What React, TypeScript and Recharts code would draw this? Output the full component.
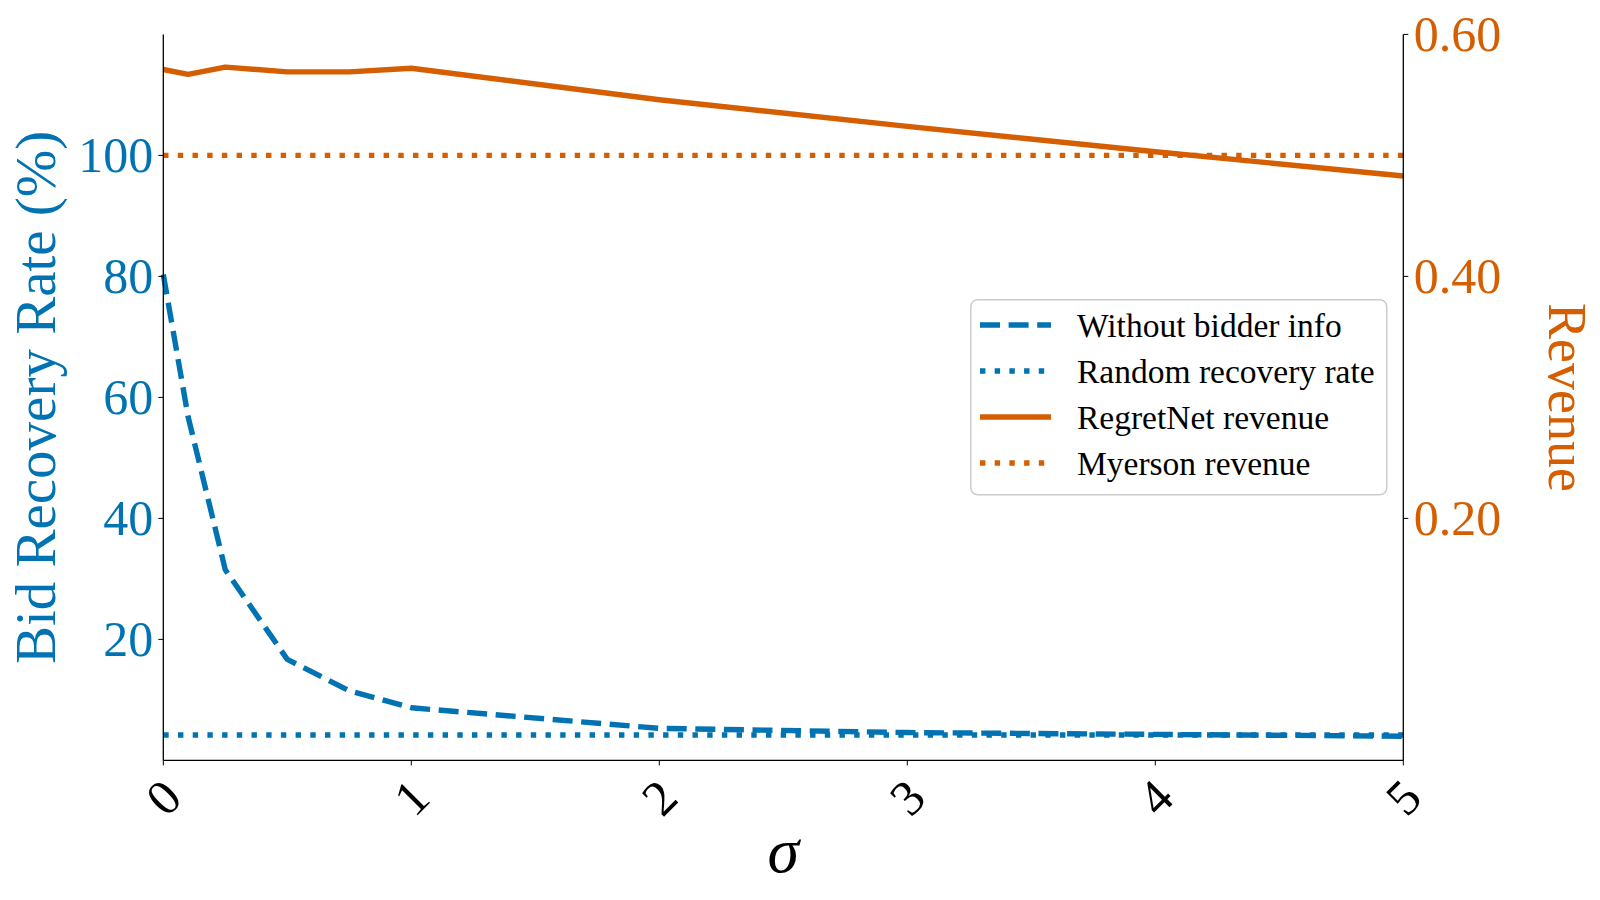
import React from 'react';
import {
  LineChart,
  Line,
  XAxis,
  YAxis,
  ReferenceLine,
} from 'recharts';

// sigma values sampled in the experiment
const SIGMA = [0, 0.1, 0.25, 0.5, 0.75, 1, 2, 3, 4, 5];
// bid recovery rate (%) without bidder info
const WITHOUT_INFO = [80.3, 56.8, 31.5, 16.7, 11.5, 8.7, 5.3, 4.6, 4.3, 4.0];
// RegretNet revenue
const REGRETNET = [0.571, 0.567, 0.573, 0.569, 0.569, 0.572, 0.546, 0.524, 0.503, 0.483];
const RANDOM_RATE = 4.2;
const MYERSON_REVENUE = 0.5;

const X_TICKS = [0, 1, 2, 3, 4, 5];
const LEFT_TICKS = [20, 40, 60, 80, 100];
const RIGHT_TICKS = [0.2, 0.4, 0.6];

const BLUE = '#0173B2';
const ORANGE = '#D55E00';
const FONT = '"Liberation Serif", "Times New Roman", serif';
const LW = 5.4;
const DASH = '20 8.6';
const DOT = '5.4 9.3';

const data = SIGMA.map((s, i) => ({
  sigma: s,
  withoutInfo: WITHOUT_INFO[i],
  regretNet: REGRETNET[i],
}));

const LEGEND = [
  { label: 'Without bidder info', color: BLUE, dash: DASH },
  { label: 'Random recovery rate', color: BLUE, dash: DOT },
  { label: 'RegretNet revenue', color: ORANGE, dash: undefined },
  { label: 'Myerson revenue', color: ORANGE, dash: DOT },
];

const XTick = ({ x, y, payload }: any) => {
  const cy = y + 30;
  return (
    <text
      x={x}
      y={cy}
      textAnchor="middle"
      dominantBaseline="central"
      fontFamily={FONT}
      fontSize={50}
      fill="#000"
      transform={`rotate(-45, ${x}, ${cy})`}
    >
      {payload.value}
    </text>
  );
};

const LeftTick = ({ x, y, payload }: any) => (
  <text x={x - 3} y={y} textAnchor="end" dominantBaseline="central" fontFamily={FONT} fontSize={50} fill={BLUE}>
    {payload.value}
  </text>
);

const RightTick = ({ x, y, payload }: any) => (
  <text x={x + 3.5} y={y} textAnchor="start" dominantBaseline="central" fontFamily={FONT} fontSize={50} fill={ORANGE}>
    {Number(payload.value).toFixed(2)}
  </text>
);

const LeftLabel = ({ viewBox }: any) => {
  const x = viewBox.x + 55;
  const y = viewBox.y + viewBox.height / 2;
  return (
    <text x={x} y={y} textAnchor="middle" fontFamily={FONT} fontSize={57} fill={BLUE} transform={`rotate(-90, ${x}, ${y})`}>
      Bid Recovery Rate (%)
    </text>
  );
};

const RightLabel = ({ viewBox }: any) => {
  const x = viewBox.x + 146;
  const y = viewBox.y + viewBox.height / 2;
  return (
    <text x={x} y={y} textAnchor="middle" fontFamily={FONT} fontSize={54} fill={ORANGE} transform={`rotate(90, ${x}, ${y})`}>
      Revenue
    </text>
  );
};

const XLabel = ({ viewBox }: any) => (
  <text
    x={viewBox.x + viewBox.width / 2}
    y={viewBox.y + 111.6}
    textAnchor="middle"
    fontFamily={FONT}
    fontStyle="italic"
    fontSize={64}
    fill="#000"
  >
    σ
  </text>
);

const LegendBox = () => (
  <svg width={420} height={200} style={{ position: 'absolute', left: 970, top: 299 }}>
    <rect x={0.75} y={0.75} width={416} height={195} rx={7} fill="#fff" fillOpacity={0.8} stroke="#cccccc" strokeWidth={1.5} />
    {LEGEND.map((item, i) => {
      const cy = 26 + i * 46;
      return (
        <g key={item.label}>
          <line x1={10} x2={81} y1={cy} y2={cy} stroke={item.color} strokeWidth={LW} strokeDasharray={item.dash} />
          <text x={107} y={cy} dominantBaseline="central" fontFamily={FONT} fontSize={33.5} fill="#000">
            {item.label}
          </text>
        </g>
      );
    })}
  </svg>
);

export default function App() {
  return (
    <div style={{ position: 'absolute', left: 0, top: 0, width: 1600, height: 900, background: '#fff' }}>
      <LineChart width={1600} height={900} data={data} margin={{ top: 34.4, right: 0, bottom: 0, left: 0 }}>
        <XAxis
          dataKey="sigma"
          type="number"
          domain={[0, 5]}
          ticks={X_TICKS}
          height={139.6}
          tick={<XTick />}
          tickSize={5}
          axisLine={{ stroke: '#000', strokeWidth: 1.3 }}
          tickLine={{ stroke: '#000', strokeWidth: 1 }}
          label={<XLabel />}
        />
        <YAxis
          yAxisId="left"
          orientation="left"
          type="number"
          domain={[0, 120]}
          ticks={LEFT_TICKS}
          width={163.3}
          tick={<LeftTick />}
          tickSize={5}
          axisLine={{ stroke: '#000', strokeWidth: 1.3 }}
          tickLine={{ stroke: '#000', strokeWidth: 1 }}
          label={<LeftLabel />}
        />
        <YAxis
          yAxisId="right"
          orientation="right"
          type="number"
          domain={[0, 0.6]}
          ticks={RIGHT_TICKS}
          width={196.7}
          tick={<RightTick />}
          tickSize={5}
          axisLine={{ stroke: '#000', strokeWidth: 1.3 }}
          tickLine={{ stroke: '#000', strokeWidth: 1 }}
          label={<RightLabel />}
        />
        <ReferenceLine yAxisId="left" y={RANDOM_RATE} stroke={BLUE} strokeWidth={LW} strokeDasharray={DOT} />
        <Line
          yAxisId="left"
          type="linear"
          dataKey="withoutInfo"
          stroke={BLUE}
          strokeWidth={LW}
          strokeDasharray={DASH}
          strokeLinejoin="round"
          dot={false}
          activeDot={false}
          isAnimationActive={false}
        />
        <ReferenceLine yAxisId="right" y={MYERSON_REVENUE} stroke={ORANGE} strokeWidth={LW} strokeDasharray={DOT} />
        <Line
          yAxisId="right"
          type="linear"
          dataKey="regretNet"
          stroke={ORANGE}
          strokeWidth={LW}
          strokeLinejoin="round"
          dot={false}
          activeDot={false}
          isAnimationActive={false}
        />
      </LineChart>
      <LegendBox />
    </div>
  );
}
